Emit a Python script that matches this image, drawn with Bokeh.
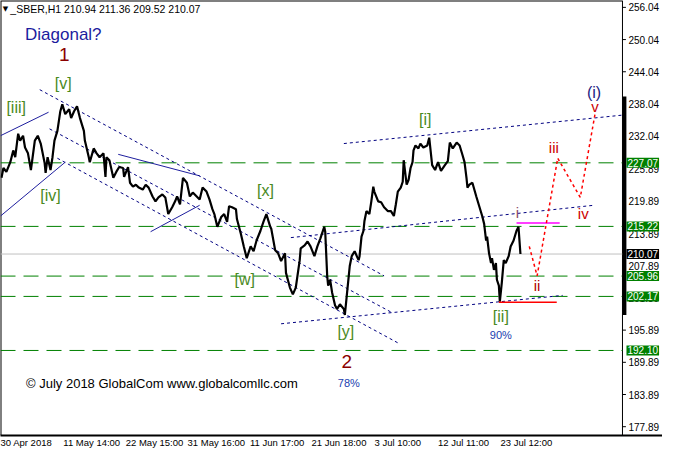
from bokeh.plotting import figure
from bokeh.models import Range1d, FixedTicker, Label, BoxAnnotation, NumeralTickFormatter
from bokeh.embed import file_html
from bokeh.resources import INLINE

# ---------------- data ----------------
symbol = "_SBER,H1"
last_ohlc = [210.94, 211.36, 209.52, 210.07]

bar_idx = [0, 2, 5, 9, 12, 14, 17, 19, 22, 24, 27, 30, 34, 37, 40, 44, 45, 47, 50, 52,
           54, 57, 60, 62, 65, 69, 71, 74, 77, 80, 84, 85, 89, 90, 94, 97, 100, 104, 106, 107,
           110, 114, 117, 120, 124, 125, 129, 131, 134, 137, 140, 144, 147, 150, 154, 157, 160, 164, 167, 170,
           174, 177, 179, 182, 185, 189, 192, 195, 199, 202, 205, 209, 212, 215, 217, 220, 224, 227, 230, 232,
           235, 239, 240, 244, 247, 250, 254, 257, 260, 264, 267, 270, 274, 275, 279, 282, 285, 289, 290, 294,
           297, 300, 304, 305, 309, 312, 315, 319, 322, 325, 329, 330, 332, 333, 335, 337, 340, 342, 345, 349,
           350, 352, 354, 355, 357, 360, 364, 365, 367, 369, 370, 372, 375, 377, 379, 380, 384, 387, 390, 394,
           397, 400, 402, 404, 407, 409, 410, 413, 415, 417, 419, 420, 422, 425, 427, 430, 434, 436, 439, 442,
           445, 448, 452, 455, 457, 460, 464, 467, 470, 472, 474, 475, 477, 480, 484, 487, 490, 492, 494, 495,
           497, 499, 500, 502, 504, 505, 507, 508, 510, 512, 514, 517, 519, 522, 525, 527, 529]
close = [224.27, 226.10, 225.37, 227.19, 229.38, 228.11, 232.49, 231.21, 232.12, 229.93,
         228.84, 225.73, 231.21, 232.12, 230.66, 227.01, 225.18, 228.11, 225.73, 228.11,
         231.21, 233.03, 236.69, 237.96, 236.14, 237.05, 235.41, 236.69, 237.60, 235.41,
         233.03, 231.21, 228.11, 227.19, 229.75, 228.84, 228.11, 228.84, 224.45, 228.11,
         227.56, 224.27, 225.37, 226.28, 226.10, 224.45, 226.28, 223.36, 222.63, 222.99,
         222.45, 222.08, 222.99, 222.45, 220.80, 219.89, 220.62, 221.17, 220.62, 217.52,
         218.79, 219.89, 220.80, 219.34, 224.27, 223.36, 220.80, 221.53, 220.80, 220.25,
         222.45, 221.71, 220.25, 218.43, 217.52, 215.14, 216.97, 217.52, 216.05, 218.98,
         218.79, 218.43, 216.60, 213.86, 211.49, 209.30, 211.49, 210.58, 212.59, 214.41,
         216.05, 217.52, 215.14, 214.78, 210.76, 210.21, 208.75, 210.21, 206.56, 203.82,
         202.54, 203.82, 208.93, 211.13, 211.67, 212.40, 211.49, 209.67, 211.49, 212.95,
         215.14, 214.23, 206.01, 204.19, 205.28, 202.91, 200.54, 199.81, 200.72, 199.81,
         198.71, 202.36, 206.01, 207.84, 209.67, 210.58, 208.93, 209.67, 213.32, 214.41,
         216.24, 218.06, 217.52, 219.89, 222.63, 221.71, 219.89, 219.71, 218.79, 218.06,
         218.06, 217.15, 219.34, 221.71, 222.45, 223.54, 227.56, 222.99, 223.91, 226.10,
         227.19, 229.38, 230.30, 229.75, 230.66, 229.93, 230.30, 231.76, 226.64, 225.73,
         227.19, 225.55, 226.64, 227.38, 230.84, 229.75, 230.84, 230.30, 228.47, 227.19,
         224.27, 222.45, 222.99, 223.36, 220.80, 218.98, 217.15, 215.69, 212.59, 213.32,
         210.21, 208.39, 209.30, 207.11, 208.39, 205.28, 204.19, 201.20, 204.74, 208.93,
         208.39, 209.67, 211.49, 212.59, 214.41, 215.14, 210.07]

price_ticks = [256.04, 250.04, 244.04, 238.04, 232.04, 225.89, 219.89, 213.89,
               207.89, 201.89, 195.89, 189.89, 183.89, 177.89]
date_tick_idx = [24, 92, 156, 219, 281, 344, 404, 471, 535]
date_tick_labels = ["30 Apr 2018", "11 May 14:00", "22 May 15:00", "31 May 16:00",
                    "11 Jun 17:00", "21 Jun 18:00", "3 Jul 10:00", "12 Jul 11:00", "23 Jul 12:00"]

green_levels = [227.07, 215.22, 205.96, 202.17, 192.10]
bid_level = 210.07

# projected wave path (ii, iii, iv, v)
proj_idx = [538, 546, 567, 590, 605]
proj_price = [211.49, 206.01, 227.92, 220.62, 236.14]

# trend lines: x0, y0, x1, y1
solid_x0 = [-1, -1, 119, 152]
solid_y0 = [232.12, 217.15, 228.65, 214.23]
solid_x1 = [48, 65, 202, 202]
solid_y1 = [236.50, 227.19, 224.64, 219.16]

dot_x0 = [39, 49, 57, 349, 295, 285]
dot_y0 = [240.70, 233.40, 227.92, 230.66, 213.13, 197.07]
dot_x1 = [390, 397, 405, 633, 604, 572]
dot_y1 = [206.01, 199.26, 193.42, 235.96, 219.16, 202.36]

red_line = [507, 566, 201.08]
magenta_line = [525, 569, 215.87]
range_bar = [198.71, 239.43]

# text annotations: text, x (bar), y (price), colour, size
labels = [
    ("Diagonal?", 63, 250.93, "#1c1c9e", "17px"),
    ("1", 64, 247.28, "#8b0000", "19px"),
    ("[v]", 63, 241.80, "#4a8a1e", "16px"),
    ("[iii]", 15, 237.42, "#4a8a1e", "16px"),
    ("[iv]", 50, 220.99, "#4a8a1e", "16px"),
    ("[x]", 269, 221.90, "#4a8a1e", "16px"),
    ("[w]", 248, 205.28, "#4a8a1e", "16px"),
    ("[y]", 351, 195.61, "#4a8a1e", "16px"),
    ("[i]", 432, 235.23, "#4a8a1e", "16px"),
    ("[ii]", 509, 198.34, "#4a8a1e", "16px"),
    ("2", 352, 189.95, "#8b0000", "19px"),
    ("78%", 354, 186.11, "#2040b0", "11px"),
    ("90%", 509, 195.06, "#2040b0", "11px"),
    ("i", 526, 217.88, "#8b4a6b", "15px"),
    ("ii", 546, 204.19, "#b00000", "15px"),
    ("iii", 563, 229.93, "#cc0000", "15px"),
    ("iv", 593, 217.70, "#cc0000", "15px"),
    ("v", 605, 237.60, "#cc0000", "15px"),
    ("(i)", 604, 240.16, "#1c1c80", "16px"),
]

# ---------------- figure ----------------
x_start, border_x, x_end = -1, 633, 673.8
y_bottom, y_top = 176.25, 257.32

p = figure(width=662, height=450, x_range=Range1d(x_start, x_end), y_range=Range1d(y_bottom, y_top),
           output_backend="svg", toolbar_location=None, y_axis_location="right",
           min_border_left=0, min_border_top=0, min_border_right=0, min_border_bottom=0)
p.xgrid.visible = False
p.ygrid.visible = False
p.outline_line_color = None
p.background_fill_color = "white"
p.border_fill_color = "white"

xa = p.xaxis[0]
xa.ticker = FixedTicker(ticks=date_tick_idx)
xa.major_label_overrides = {t: l for t, l in zip(date_tick_idx, date_tick_labels)}
xa.major_tick_line_color = None
xa.major_tick_in = 0
xa.major_tick_out = 0
xa.minor_tick_line_color = None
xa.minor_tick_in = 0
xa.minor_tick_out = 0
xa.axis_line_color = "black"
xa.axis_line_width = 2
xa.major_label_text_font = "Liberation Sans"
xa.major_label_text_font_size = "9.5px"
xa.major_label_text_color = "black"
xa.major_label_standoff = 1

# price axis: labels drawn just right of the chart border (MetaTrader style)
ya = p.yaxis[0]
ya.ticker = FixedTicker(ticks=price_ticks)
ya.formatter = NumeralTickFormatter(format="0.00")
ya.major_tick_in = 0
ya.major_tick_out = 0
ya.major_tick_line_color = None
ya.minor_tick_line_color = None
ya.axis_line_color = None
ya.major_label_text_font = "Liberation Sans"
ya.major_label_text_font_size = "10px"
ya.major_label_text_color = "black"
ya.major_label_standoff = -34

# chart border (left, top, right)
p.line([x_start, x_start, border_x], [y_bottom, y_top, y_top], line_color="black", line_width=2)
p.line([border_x, border_x], [y_top, y_bottom], line_color="black", line_width=1)
# small tick marks on the price scale
p.segment(x0=[border_x] * len(price_ticks), y0=price_ticks,
          x1=[border_x + 3.5] * len(price_ticks), y1=price_ticks, line_color="black", line_width=1)

# horizontal levels
p.segment(x0=[x_start] * len(green_levels), y0=green_levels,
          x1=[border_x] * len(green_levels), y1=green_levels,
          line_color="#008000", line_dash="15 8", line_width=1)
p.segment(x0=[x_start], y0=[bid_level], x1=[border_x], y1=[bid_level], line_color="#c0c0c0", line_width=1)

p.segment(x0=solid_x0, y0=solid_y0, x1=solid_x1, y1=solid_y1, line_color="#1e1e9e", line_width=1)
p.segment(x0=dot_x0, y0=dot_y0, x1=dot_x1, y1=dot_y1, line_color="#000080",
          line_width=1, line_dash="3 3")

p.line(bar_idx, close, line_color="black", line_width=2.2)

p.segment(x0=[red_line[0]], y0=[red_line[2]], x1=[red_line[1]], y1=[red_line[2]],
          line_color="#ff0000", line_width=1.5)
p.segment(x0=[magenta_line[0]], y0=[magenta_line[2]], x1=[magenta_line[1]], y1=[magenta_line[2]],
          line_color="#ff00ff", line_width=1.5)
p.line(proj_idx, proj_price, line_color="#ff0000", line_width=1.5, line_dash="3 3")

for txt, x, y, col, size in labels:
    p.add_layout(Label(x=x, y=y, text=txt, text_color=col, text_font="Liberation Sans",
                       text_font_size=size, text_align="center", text_baseline="middle"))

header = "%s  %.2f %.2f %.2f %.2f" % (symbol, *last_ohlc)
p.add_layout(Label(x=4, y=255.67, text="\u25BC", text_font="DejaVu Sans", text_font_size="7px",
                   text_align="center", text_baseline="middle", text_color="black"))
p.add_layout(Label(x=9, y=255.67, text=header, text_font="Liberation Sans", text_font_size="10.5px",
                   text_align="left", text_baseline="middle", text_color="black"))
p.add_layout(Label(x=25, y=185.93, text="\u00A9 July 2018 GlobalCom www.globalcomllc.com",
                   text_font="Liberation Sans", text_font_size="13px", text_align="left",
                   text_baseline="middle", text_color="black"))

p.add_layout(BoxAnnotation(left=border_x, right=border_x + 4, bottom=range_bar[0], top=range_bar[1],
                           fill_color="black", fill_alpha=1.0, line_color=None))

for lv in green_levels:
    p.add_layout(Label(x=border_x, y=lv, text="%.2f" % lv, x_offset=4, text_color="white",
                       background_fill_color="#008000", text_font="Liberation Sans",
                       text_font_size="10px", text_baseline="middle", text_align="left", padding=1))
p.add_layout(Label(x=border_x, y=bid_level, text="%.2f" % bid_level, x_offset=4, text_color="white",
                   background_fill_color="black", text_font="Liberation Sans",
                   text_font_size="10px", text_baseline="middle", text_align="left", padding=1))

open("out.html", "w").write(file_html(p, INLINE))
